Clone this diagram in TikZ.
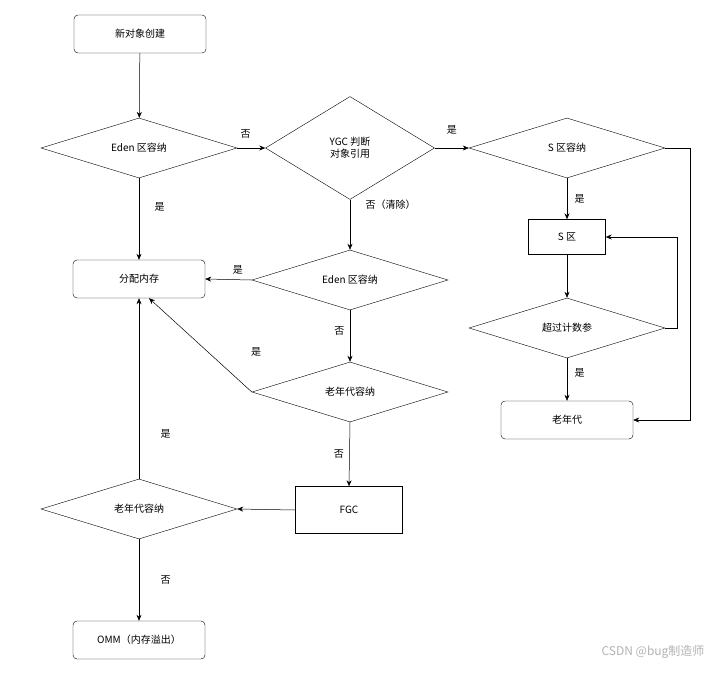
\documentclass[tikz,border=0pt]{standalone}
\usepackage{fontspec}
\setmainfont{Noto Sans CJK SC}
\usetikzlibrary{shapes.geometric,arrows.meta}
\begin{document}
\begin{tikzpicture}[x=1pt,y=-1pt,
  every node/.style={font=\fontsize{10}{12}\selectfont},
  rbox/.style={draw,rounded corners=4pt,minimum width=132pt,minimum height=38pt,inner sep=0pt},
  sbox/.style={draw,minimum height=36pt,inner sep=0pt},
  dia/.style={draw,diamond,aspect=3.27,minimum width=196pt,minimum height=60pt,inner sep=0pt},
  arr/.style={draw,-{Stealth[length=6pt,width=5pt]},line width=0.5pt},
  lbl/.style={font=\fontsize{10}{12}\selectfont}]
\useasboundingbox (0,0) rectangle (725,672);
\node[rbox] (new) at (140,34) {新对象创建};
\node[dia] (eden1) at (139,148) {Eden 区容纳};
\node[draw,diamond,minimum width=169pt,minimum height=103pt,inner sep=0pt,align=center] (ygc) at (350,148) {YGC 判断\\对象引用};
\node[dia] (srq) at (567,148) {S 区容纳};
\node[rbox] (alloc) at (139,279) {分配内存};
\node[dia] (eden2) at (350,280) {Eden 区容纳};
\node[dia] (old1) at (350,392) {老年代容纳};
\node[sbox,minimum width=107pt,minimum height=47pt] (fgc) at (349,510) {FGC};
\node[dia] (old2) at (139,509) {老年代容纳};
\node[rbox] (omm) at (139,640) {OMM（内存溢出）};
\node[sbox,minimum width=77pt,minimum height=35pt] (s) at (567,237) {S 区};
\node[dia] (cnt) at (567,328) {超过计数参};
\node[rbox] (old) at (567,420) {老年代};
\coordinate (tgt) at ([xshift=10pt]alloc.south);
\draw[arr] (new) -- (eden1);
\draw[arr] (eden1.east) -- (ygc.west) node[lbl,pos=0.3,above=6pt] {否};
\draw[arr] (ygc.east) -- (srq.west) node[lbl,pos=0.5,above=10pt] {是};
\draw[arr] (eden1.south) -- (alloc.north) node[lbl,pos=0.35,right=12pt] {是};
\draw[arr] (ygc.south) -- (eden2.north) node[lbl,pos=0.1,right=12pt] {否（清除）};
\draw[arr] (eden2.west) -- (alloc.east) node[lbl,pos=0.3,above=2pt] {是};
\draw[arr] (eden2.south) -- (old1.north) node[lbl,pos=0.4,left=2pt] {否};
\draw[arr] (old1.west) -- (tgt);
\node[lbl] (ly) at (256,352) {是};
\draw[arr] (old1.south) -- (fgc.north) node[lbl,pos=0.5,left=2pt] {否};
\draw[arr] (fgc.west) -- (old2.east);
\draw[arr] (old2.north) -- (alloc.south) node[lbl,pos=0.25,right=18pt] {是};
\draw[arr] (old2.south) -- (omm.north) node[lbl,pos=0.5,right=18pt] {否};
\draw[arr] (srq.south) -- (s.north) node[lbl,pos=0.5,right=4pt] {是};
\draw[arr] (s.south) -- (cnt.north);
\draw[arr] (cnt.east) -- (677,328) -- (677,237) -- (s.east);
\draw[arr] (cnt.south) -- (old.north) node[lbl,pos=0.35,right=4pt] {是};
\draw[arr] (srq.east) -- (690,148) -- (690,420) -- (old.east);
\node[text=gray!60,font=\fontsize{12}{14}\selectfont,anchor=east] (wm) at (708,652) {CSDN @bug制造师};
\end{tikzpicture}
\end{document}
